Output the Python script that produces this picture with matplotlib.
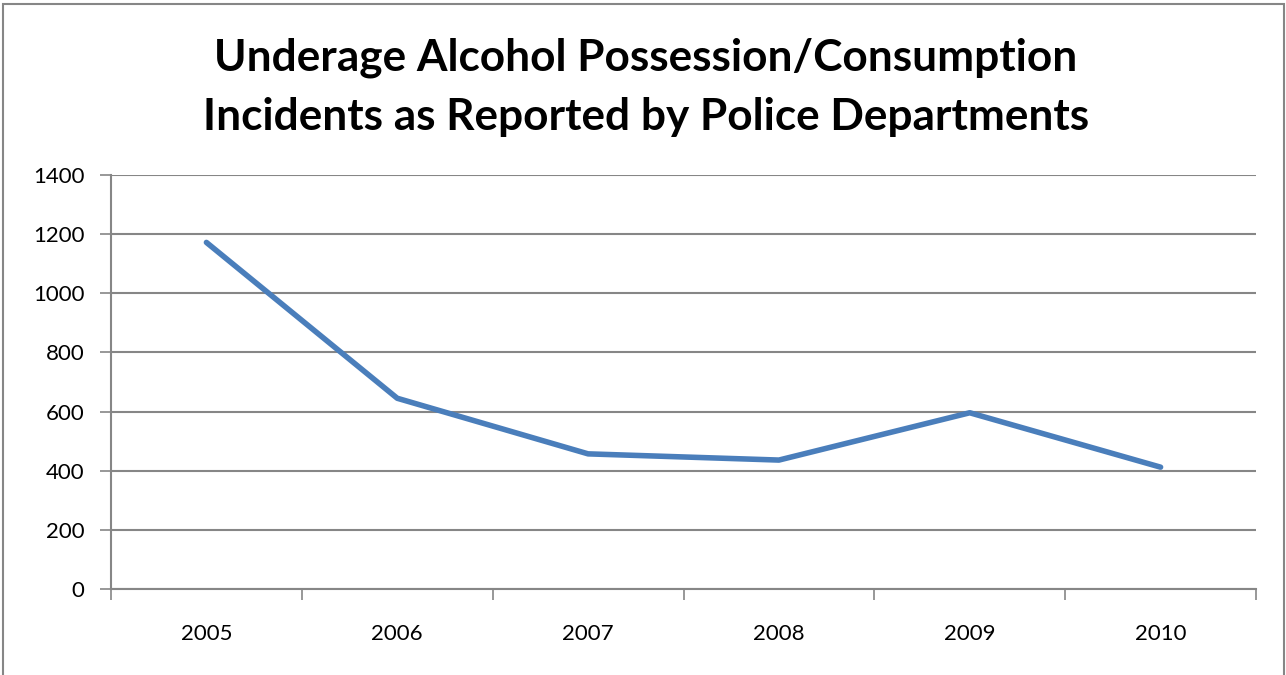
import matplotlib
matplotlib.use("Agg")
import matplotlib.pyplot as plt
from matplotlib.patches import Rectangle
import numpy as np

years = ["2005", "2006", "2007", "2008", "2009", "2010"]
incidents = [1172, 645, 457, 436, 596, 412]
y_ticks = [0, 200, 400, 600, 800, 1000, 1200, 1400]
title = "Underage Alcohol Possession/Consumption\nIncidents as Reported by Police Departments"

plt.rcParams['font.family'] = ['Lato', 'DejaVu Sans']

W, H = 1286, 675
fig = plt.figure(figsize=(W / 100, H / 100), dpi=100)
fig.patch.set_facecolor("white")

# chart border
fig.patches.append(Rectangle((3 / W, -0.05), (1284 - 3) / W, (H - 4) / H + 0.05,
                             transform=fig.transFigure, fill=False,
                             edgecolor="#868686", linewidth=1.5))

ax = fig.add_axes([111 / W, 1 - 589 / H, (1256 - 111) / W, (589 - 175) / H])
x = np.arange(1, len(years) + 1)
ax.plot(x, incidents, color="#4A7EBB", linewidth=4.0, solid_capstyle="round",
        solid_joinstyle="round", zorder=3)

ax.set_xlim(0.5, len(years) + 0.5)
ax.set_ylim(0, 1400)
ax.set_yticks(y_ticks)
ax.set_yticklabels([str(v) for v in y_ticks], fontsize=16)
ax.set_xticks(np.arange(0.5, len(years) + 1, 1.0))
ax.set_xticklabels([])
ax.set_xticks(x, minor=True)
ax.set_xticklabels(years, minor=True, fontsize=16)
ax.tick_params(axis="x", which="minor", length=0, pad=25)
ax.tick_params(axis="x", which="major", length=8, width=1.2, color="#868686", direction="out")
ax.tick_params(axis="y", length=8, width=1.2, color="#868686", direction="out", pad=11)

ax.grid(axis="y", color="#868686", linewidth=1.5)
ax.set_axisbelow(True)
for s in ["top", "right"]:
    ax.spines[s].set_visible(False)
for s in ["left", "bottom"]:
    ax.spines[s].set_color("#868686")
    ax.spines[s].set_linewidth(1.5)

fig.text(646 / W, 1 - 87 / H, title,
         ha="center", va="center", fontsize=31.8, fontweight="bold",
         linespacing=1.58)

fig.savefig("out.png", dpi=100)
